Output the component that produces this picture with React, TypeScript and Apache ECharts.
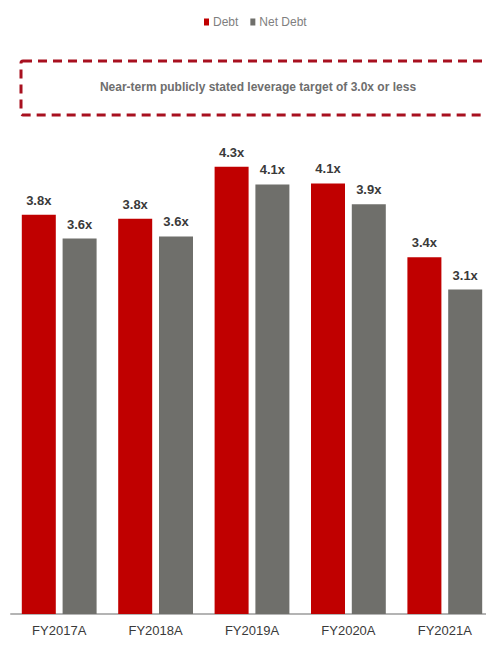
import React, { useEffect, useRef } from "react";
import * as echarts from "echarts";

const categories = ["FY2017A", "FY2018A", "FY2019A", "FY2020A", "FY2021A"];
const debtValues = [3.84, 3.8, 4.3, 4.14, 3.43];
const netDebtValues = [3.61, 3.63, 4.13, 3.94, 3.12];
const seriesNames = ["Debt", "Net Debt"];
const targetNote = "Near-term publicly stated leverage target of 3.0x or less";

const FONT = "'Liberation Sans', Arial, sans-serif";

export default function App() {
  const ref = useRef<HTMLDivElement>(null);
  useEffect(() => {
    if (!ref.current) return;
    const chart = echarts.init(ref.current, null, { renderer: "svg" });
    const labelCfg = {
      show: true,
      position: "top",
      distance: 8,
      fontFamily: FONT,
      fontSize: 13,
      fontWeight: "bold",
      color: "#3a3a3a",
      formatter: (p: any) => `${Number(p.value).toFixed(1)}x`,
    };
    chart.setOption({
      animation: false,
      backgroundColor: "#ffffff",
      legend: {
        top: 11,
        left: 199,
        itemWidth: 5,
        itemHeight: 7,
        itemGap: 12,
        icon: "rect",
        textStyle: { fontFamily: FONT, fontSize: 12, color: "#7f7f7f", padding: [0, 0, 0, -1] },
        data: seriesNames,
      },
      graphic: [
        {
          type: "rect",
          shape: { x: 21, y: 61, width: 490, height: 54, r: 2 },
          style: { fill: "none", stroke: "#a8101f", lineWidth: 3, lineDash: [9, 6] },
        },
        {
          type: "text",
          x: 258,
          y: 87,
          style: {
            text: targetNote,
            fontFamily: FONT,
            fontSize: 12,
            fontWeight: "bold",
            fill: "#6e6e6e",
            align: "center",
            verticalAlign: "middle",
          },
        },
      ],
      grid: { left: 11, width: 482, top: 94, bottom: 31, containLabel: false },
      xAxis: {
        type: "category",
        data: categories,
        axisLine: { show: true, lineStyle: { color: "#b4b4b4", width: 2 } },
        axisTick: { show: false },
        axisLabel: { fontFamily: FONT, fontSize: 13, color: "#3a3a3a", margin: 10 },
      },
      yAxis: {
        type: "value",
        min: 0,
        max: 5,
        show: false,
        splitLine: { show: false },
      },
      series: [
        {
          name: seriesNames[0],
          type: "bar",
          data: debtValues,
          barWidth: 34,
          barGap: "20%",
          itemStyle: { color: "#c00000" },
          label: labelCfg,
        },
        {
          name: seriesNames[1],
          type: "bar",
          data: netDebtValues,
          barWidth: 34,
          itemStyle: { color: "#6f6f6b" },
          label: labelCfg,
        },
      ],
    });
    return () => chart.dispose();
  }, []);
  return (
    <div style={{ position: "absolute", left: 0, top: 0, width: 486, height: 645, overflow: "hidden" }}>
      <div ref={ref} style={{ width: 500, height: 645 }} />
    </div>
  );
}
